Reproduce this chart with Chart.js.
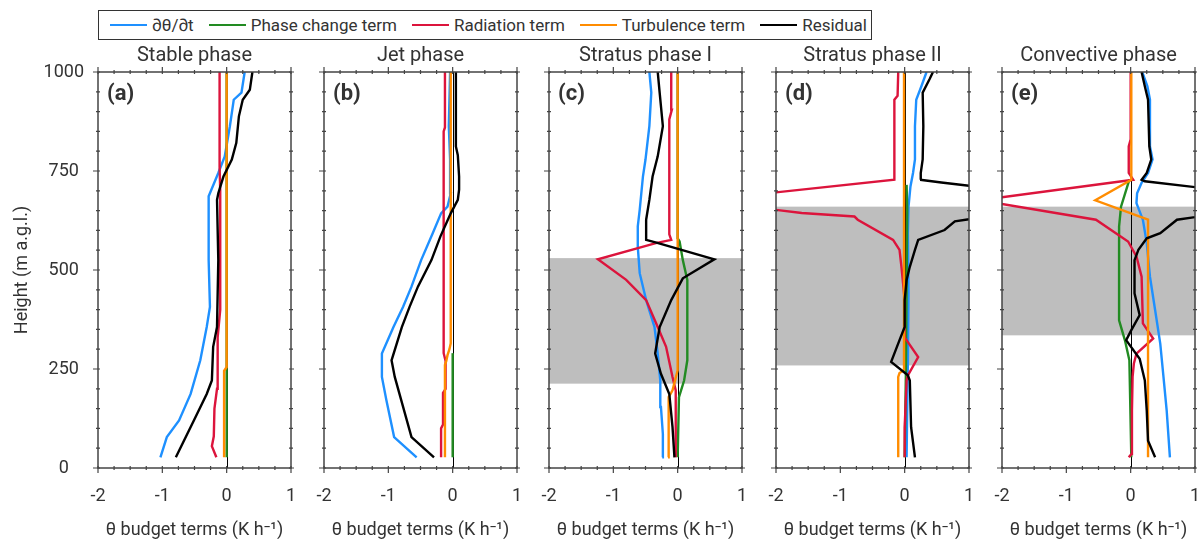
<!DOCTYPE html>
<html>
<head>
<meta charset="utf-8">
<script src="https://cdn.jsdelivr.net/npm/chart.js@4.4.1/dist/chart.umd.min.js"></script>
<style>
  body { margin: 0; background: #fff; font-family: Roboto, sans-serif; color: #333; }
  #wrap { position: relative; width: 1197px; height: 539px; overflow: hidden; }
  #legend {
    position: absolute; left: 98px; top: 10px; width: 774px; height: 30px;
    border: 1px solid #333; display: flex; align-items: center; padding-left: 11px;
    box-sizing: border-box; font-size: 17px; white-space: nowrap;
  }
  .legend-item { display: flex; align-items: center; margin-right: 15px; flex-shrink: 0; }
  .legend-color { width: 37px; height: 2.5px; margin-right: 5px; flex-shrink: 0; }
  canvas { position: absolute; }
</style>
</head>
<body>
<div id="wrap">
  <div id="legend"></div>
</div>
<script>
// panels
const panelTitles = ['Stable phase', 'Jet phase', 'Stratus phase I', 'Stratus phase II', 'Convective phase'];
const panelLabels = ['(a)', '(b)', '(c)', '(d)', '(e)'];
// cloud layer (grey band), m a.g.l.
const cloudLayers = [null, null, [213, 530], [259, 660], [335, 660]];

const seriesNames = ['∂θ/∂t', 'Phase change term', 'Radiation term', 'Turbulence term', 'Residual'];
const seriesColors = ['#1e90ff', '#228b22', '#dc143c', '#ff8c00', '#000000'];

// profiles as [height (m), value (K/h)]
// (a) Stable phase
const stableDtheta = [[27, -1.03], [78, -0.93], [120, -0.74], [187, -0.56], [272, -0.41], [356, -0.31], [407, -0.26], [525, -0.28], [686, -0.28], [745, -0.13], [787, -0.03], [863, 0.05], [930, 0.11], [948, 0.23], [1000, 0.28]];
const stablePhase = [[27, 0], [240, 0], [1000, 0]];
const stableRadiation = [[27, -0.16], [55, -0.23], [80, -0.2], [150, -0.19], [200, -0.15], [330, -0.14], [400, -0.1], [700, -0.1], [760, -0.11], [1000, -0.11]];
const stableTurbulence = [[27, -0.04], [245, -0.04], [255, 0], [1000, 0]];
const stableResidual = [[27, -0.79], [120, -0.51], [187, -0.31], [221, -0.23], [306, -0.21], [356, -0.15], [525, -0.13], [677, -0.15], [694, -0.13], [736, -0.05], [779, 0.08], [821, 0.15], [888, 0.19], [930, 0.25], [955, 0.36], [1000, 0.4]];

// (b) Jet phase
const jetDtheta = [[27, -0.56], [78, -0.91], [171, -1.03], [230, -1.1], [289, -1.1], [356, -0.92], [407, -0.77], [458, -0.64], [525, -0.49], [593, -0.31], [643, -0.18], [660, -0.08], [694, -0.03], [779, -0.04], [863, -0.06], [1000, -0.04]];
const jetPhase = [[27, 0], [290, 0]];
const jetRadiation = [[27, -0.18], [100, -0.18], [110, -0.15], [190, -0.15], [200, -0.11], [270, -0.11], [290, -0.14], [850, -0.14], [860, -0.12], [1000, -0.12]];
const jetTurbulence = [[27, -0.12], [260, -0.12], [270, -0.1], [285, -0.08], [300, -0.05], [315, -0.03], [1000, -0.03]];
const jetResidual = [[27, -0.29], [78, -0.64], [230, -0.9], [272, -0.95], [356, -0.79], [407, -0.67], [458, -0.54], [525, -0.33], [585, -0.19], [643, -0.03], [677, 0.08], [703, 0.1], [736, 0.1], [790, 0.08], [812, 0.05], [1000, 0.05]];

// (c) Stratus phase I
const stratus1Dtheta = [[27, -0.24], [86, -0.23], [154, -0.26], [221, -0.27], [289, -0.31], [356, -0.36], [424, -0.49], [492, -0.59], [559, -0.62], [610, -0.62], [652, -0.59], [736, -0.54], [779, -0.5], [863, -0.44], [948, -0.41], [1000, -0.44]];
const stratus1Phase = [[27, 0], [179, 0.02], [221, 0.1], [272, 0.15], [475, 0.15], [525, 0.08], [572, 0.03], [580, 0], [1000, 0]];
const stratus1Radiation = [[27, -0.03], [196, -0.03], [230, -0.08], [306, -0.18], [356, -0.31], [424, -0.49], [475, -0.8], [527, -1.24], [568, -0.34], [576, -0.1], [590, -0.13], [880, -0.13], [905, -0.09], [1000, -0.1]];
const stratus1Turbulence = [[27, -0.15], [179, -0.14], [196, -0.08], [247, 0], [1000, 0]];
const stratus1Residual = [[27, -0.05], [103, -0.08], [187, -0.13], [238, -0.26], [289, -0.35], [356, -0.28], [424, -0.1], [479, 0.08], [527, 0.57], [569, -0.33], [576, -0.49], [627, -0.49], [677, -0.44], [736, -0.39], [787, -0.31], [863, -0.23], [948, -0.28], [1000, -0.31]];

// (d) Stratus phase II
const stratus2Dtheta = [[27, 0.03], [272, 0.05], [441, 0.06], [593, 0.05], [660, 0.06], [711, 0.09], [745, 0.13], [779, 0.16], [863, 0.16], [930, 0.18], [964, 0.26], [1000, 0.34]];
const stratus2Phase = [[27, 0], [250, 0.02], [652, 0.04], [715, 0.03]];
const stratus2Radiation = [[27, 0], [103, 0], [221, 0.03], [234, 0.05], [280, 0.21], [330, 0], [424, 0], [475, -0.03], [508, -0.05], [551, -0.08], [576, -0.18], [627, -0.73], [635, -0.78], [644, -1.6], [675, -3.2], [728, -0.16], [930, -0.16], [940, -0.11], [1000, -0.1]];
const stratus2Turbulence = [[27, -0.1], [230, -0.1], [240, -0.08], [247, -0.01], [1000, -0.01]];
const stratus2Residual = [[27, 0.16], [103, 0.1], [221, 0.08], [234, 0.05], [268, -0.21], [323, -0.08], [356, 0], [424, 0], [475, 0.03], [508, 0.08], [551, 0.16], [576, 0.21], [601, 0.62], [623, 0.78], [675, 3.0], [721, 0.57], [728, 0.24], [745, 0.25], [779, 0.28], [863, 0.29], [948, 0.28], [983, 0.39], [1000, 0.44]];

// (e) Convective phase
const convDtheta = [[27, 0.61], [145, 0.56], [230, 0.51], [314, 0.46], [399, 0.38], [483, 0.3], [568, 0.25], [627, 0.19], [669, 0.09], [694, 0.1], [720, 0.17], [745, 0.27], [779, 0.34], [812, 0.3], [930, 0.3], [964, 0.26], [1000, 0.18]];
const convPhase = [[27, 0.01], [272, -0.02], [323, -0.09], [373, -0.18], [610, -0.18], [660, -0.15], [728, -0.02]];
const convRadiation = [[27, -0.03], [35, 0.01], [145, 0.02], [230, 0.03], [264, 0.05], [289, 0.09], [327, 0.35], [365, 0.19], [483, 0.17], [534, 0.09], [572, -0.04], [627, -0.54], [676, -2.35], [728, 0.04], [745, -0.03], [812, -0.03], [830, 0], [1000, 0]];
const convTurbulence = [[27, 0.27], [627, 0.27], [676, -0.55], [728, 0.01], [1000, 0.01]];
const convResidual = [[27, 0.38], [69, 0.27], [145, 0.25], [221, 0.22], [276, 0.14], [323, -0.07], [348, 0.01], [386, 0.14], [441, 0.06], [525, 0.06], [551, 0.12], [580, 0.25], [593, 0.46], [627, 0.72], [675, 2.8], [724, 0.22], [728, 0.17], [745, 0.25], [779, 0.32], [812, 0.29], [930, 0.27], [964, 0.22], [1000, 0.17]];

const panelSeries = [
  [stableDtheta, stablePhase, stableRadiation, stableTurbulence, stableResidual],
  [jetDtheta, jetPhase, jetRadiation, jetTurbulence, jetResidual],
  [stratus1Dtheta, stratus1Phase, stratus1Radiation, stratus1Turbulence, stratus1Residual],
  [stratus2Dtheta, stratus2Phase, stratus2Radiation, stratus2Turbulence, stratus2Residual],
  [convDtheta, convPhase, convRadiation, convTurbulence, convResidual],
];

const xTicks = [-2, -1, 0, 1];
const yTicks = [0, 250, 500, 750, 1000];

// layout
const PANEL_LEFT = [98, 324, 549, 776, 1002];
const PANEL_W = 193;
const CANVAS_TOP = 42;
const CANVAS_H = 497;
const TEXT = '#333';

Chart.defaults.font.family = 'Roboto';
Chart.defaults.color = TEXT;

// legend (html)
const legendContainer = document.getElementById('legend');
seriesNames.forEach((name, i) => {
  const item = document.createElement('div');
  item.className = 'legend-item';
  const sw = document.createElement('div');
  sw.className = 'legend-color';
  sw.style.backgroundColor = seriesColors[i];
  const txt = document.createElement('div');
  txt.textContent = name;
  item.appendChild(sw);
  item.appendChild(txt);
  legendContainer.appendChild(item);
});

// grey band, zero line, frame with ticks, panel letter
const framePlugin = {
  id: 'frame',
  beforeDatasetsDraw(chart, args, opts) {
    const { ctx, chartArea: a, scales: { x, y } } = chart;
    ctx.save();
    if (opts.band) {
      const top = y.getPixelForValue(opts.band[1]);
      const bot = y.getPixelForValue(opts.band[0]);
      ctx.fillStyle = '#bebebe';
      ctx.fillRect(a.left, top, a.right - a.left, bot - top);
    }
    const x0 = Math.round(x.getPixelForValue(0)) + 0.5;
    ctx.strokeStyle = '#000';
    ctx.lineWidth = 1;
    ctx.beginPath();
    ctx.moveTo(x0, a.top);
    ctx.lineTo(x0, a.bottom);
    ctx.stroke();
    ctx.restore();
  },
  afterDraw(chart, args, opts) {
    const { ctx, chartArea: a, scales: { x, y } } = chart;
    ctx.save();
    ctx.strokeStyle = '#444';
    ctx.lineWidth = 1.5;
    ctx.strokeRect(a.left, a.top, a.right - a.left, a.bottom - a.top);
    ctx.lineWidth = 1.2;
    ctx.beginPath();
    for (let v = -2; v <= 1.001; v += 0.25) {
      const px = x.getPixelForValue(v);
      const major = Math.abs(v - Math.round(v)) < 1e-6;
      const out = major ? 5 : 2, inn = 2;
      ctx.moveTo(px, a.bottom - inn); ctx.lineTo(px, a.bottom + out);
      ctx.moveTo(px, a.top + inn); ctx.lineTo(px, a.top - out);
    }
    for (let v = 0; v <= 1000; v += 50) {
      const py = y.getPixelForValue(v);
      const major = v % 250 === 0;
      const out = major ? 5 : 2, inn = 2;
      ctx.moveTo(a.left + inn, py); ctx.lineTo(a.left - out, py);
      ctx.moveTo(a.right - inn, py); ctx.lineTo(a.right + out, py);
    }
    ctx.stroke();
    ctx.fillStyle = TEXT;
    ctx.font = 'bold 22px Roboto';
    ctx.textBaseline = 'middle';
    ctx.textAlign = 'left';
    ctx.fillText(opts.label, a.left + 9, a.top + 22);
    ctx.restore();
  }
};

const wrap = document.getElementById('wrap');
panelTitles.forEach((title, i) => {
  const leftSpace = i === 0 ? 98 : 14;
  const canvas = document.createElement('canvas');
  canvas.width = leftSpace + PANEL_W + 3;
  canvas.height = CANVAS_H;
  canvas.style.left = (PANEL_LEFT[i] - leftSpace) + 'px';
  canvas.style.top = CANVAS_TOP + 'px';
  wrap.appendChild(canvas);

  const datasets = panelSeries[i].map((rows, k) => ({
    label: seriesNames[k],
    data: rows.map(([z, v]) => ({ x: v, y: z })),
    borderColor: seriesColors[k],
    backgroundColor: seriesColors[k],
    borderWidth: 2.4,
    pointRadius: 0,
    tension: 0,
    order: 4 - k,
  }));

  new Chart(canvas.getContext('2d'), {
    type: 'line',
    data: { datasets },
    options: {
      responsive: false,
      animation: false,
      events: [],
      layout: { padding: { left: i === 0 ? 0 : leftSpace, right: 3, top: 0, bottom: 0 } },
      plugins: {
        legend: { display: false },
        tooltip: { enabled: false },
        title: {
          display: true,
          text: title,
          fullSize: false,
          color: TEXT,
          font: { size: 20, weight: 'normal' },
          padding: { top: 2, bottom: 4 },
        },
        frame: { band: cloudLayers[i], label: panelLabels[i] },
      },
      scales: {
        x: {
          type: 'linear',
          min: -2,
          max: 1,
          border: { display: false },
          grid: { display: false, drawTicks: false },
          afterBuildTicks: (s) => { s.ticks = xTicks.map(v => ({ value: v })); },
          ticks: { font: { size: 18 }, color: TEXT, padding: 18, callback: (v) => String(v) },
          title: {
            display: true,
            text: 'θ budget terms (K h⁻¹)',
            color: TEXT,
            font: { size: 18, lineHeight: 1 },
            padding: { top: 0, bottom: 0 },
          },
          afterFit: (s) => { s.height = 71; s.paddingLeft = 0; s.paddingRight = 0; },
        },
        y: {
          type: 'linear',
          min: 0,
          max: 1000,
          display: i === 0,
          border: { display: false },
          grid: { display: false, drawTicks: false },
          afterBuildTicks: (s) => { s.ticks = yTicks.map(v => ({ value: v })); },
          ticks: { font: { size: 18 }, color: TEXT, padding: 14, crossAlign: 'center', callback: (v) => String(v) },
          title: {
            display: true,
            text: 'Height (m a.g.l.)',
            color: TEXT,
            font: { size: 18 },
            padding: { top: 12 },
          },
          afterFit: (s) => { s.width = i === 0 ? 98 : 0; s.paddingTop = 0; s.paddingBottom = 0; },
        },
      },
    },
    plugins: [framePlugin],
  });
});
</script>
</body>
</html>
